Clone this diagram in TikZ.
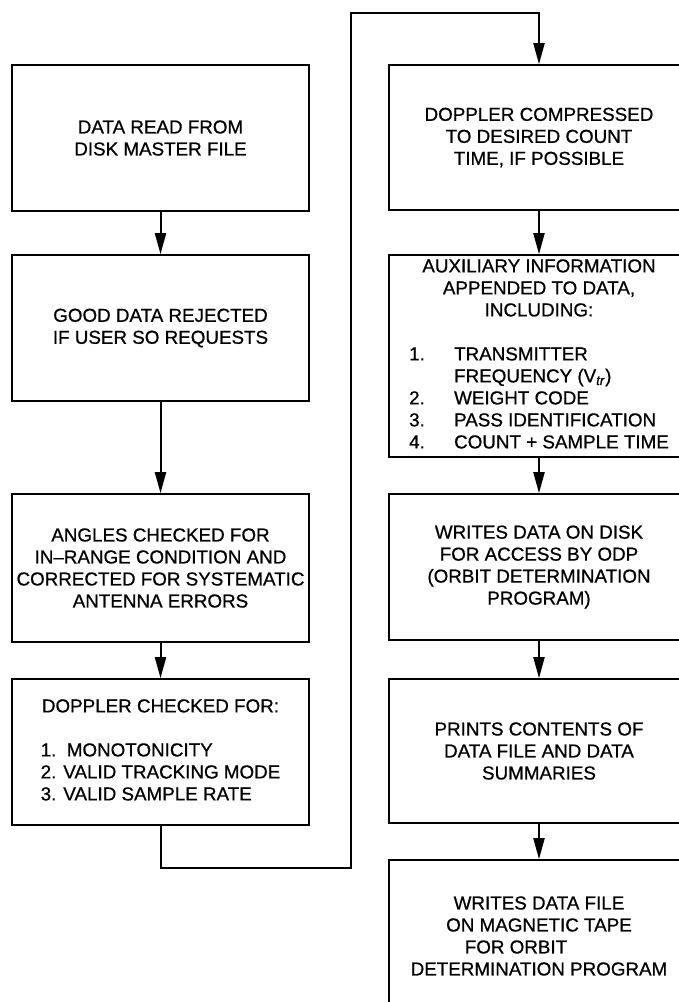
\documentclass[tikz,border=0pt]{standalone}
\usepackage{fontspec}
\setmainfont{Liberation Sans}[FakeBold=0.7]
\usetikzlibrary{arrows.meta}
\begin{document}
\begin{tikzpicture}[x=1pt,y=-1pt,
  box/.style={draw, line width=1.6pt, inner sep=0pt, align=center, font=\fontsize{18.8}{22}\selectfont},
  lbox/.style={box, minimum width=297pt},
  rbox/.style={box, minimum width=300pt},
  conn/.style={line width=2pt},
  arr/.style={conn, -{Triangle[length=21pt,width=11pt]}}
]
\useasboundingbox (0,0) rectangle (679,1002);
\clip (0,0) rectangle (679,1002);
% left column
\node[lbox, minimum height=146pt] (b1) at (160.5,138) {DATA READ FROM\\DISK MASTER FILE};
\node[lbox, minimum height=146pt] (b2) at (160.5,328) {GOOD DATA REJECTED\\IF USER SO REQUESTS};
\node[lbox, minimum height=148pt] (b3) at (160.5,568) {ANGLES CHECKED FOR\\IN--RANGE CONDITION AND\\CORRECTED FOR SYSTEMATIC\\ANTENNA ERRORS};
\node[lbox, minimum height=146pt] (b4) at (160.5,752) {\begin{tabular}{@{}l@{}}\multicolumn{1}{@{}c@{}}{DOPPLER CHECKED FOR:}\\ \\ 1.~~MONOTONICITY\\2. VALID TRACKING MODE\\3. VALID SAMPLE RATE\end{tabular}};
% right column
\node[rbox, minimum height=145pt] (b5) at (539,137.5) {DOPPLER COMPRESSED\\TO DESIRED COUNT\\TIME, IF POSSIBLE};
\node[rbox, minimum height=202pt] (b6) at (539,356) {\begin{tabular}{@{}l@{}}
\multicolumn{1}{@{}c@{}}{AUXILIARY INFORMATION}\\
\multicolumn{1}{@{}c@{}}{APPENDED TO DATA,}\\
\multicolumn{1}{@{}c@{}}{INCLUDING:}\\
\\
\makebox[45pt][l]{1.}TRANSMITTER\\
\hspace*{45pt}FREQUENCY (V\textsubscript{\textit{tr}})\\
\makebox[45pt][l]{2.}WEIGHT CODE\\
\makebox[45pt][l]{3.}PASS IDENTIFICATION\\
\makebox[45pt][l]{4.}COUNT + SAMPLE TIME
\end{tabular}};
\node[rbox, minimum height=146pt] (b7) at (539,567) {WRITES DATA ON DISK\\FOR ACCESS BY ODP\\(ORBIT DETERMINATION\\PROGRAM)};
\node[rbox, minimum height=144pt] (b8) at (539,751) {PRINTS CONTENTS OF\\DATA FILE AND DATA\\SUMMARIES};
\node[rbox, minimum height=152pt] (b9) at (539,936) {WRITES DATA FILE\\ON MAGNETIC TAPE\\FOR ORBIT\kern46pt\\DETERMINATION PROGRAM};
% connectors
\coordinate (c2) at (351,868);
\coordinate (c4) at (539,13);
\draw[arr] (b1) -- (b2);
\draw[arr] (b2) -- (b3);
\draw[arr] (b3) -- (b4);
\draw[arr] (b4.south) |- (c2) |- (c4) -- (b5.north);
\draw[arr] (b5) -- (b6);
\draw[arr] (b6) -- (b7);
\draw[arr] (b7) -- (b8);
\draw[arr] (b8) -- (b9);
\end{tikzpicture}
\end{document}
